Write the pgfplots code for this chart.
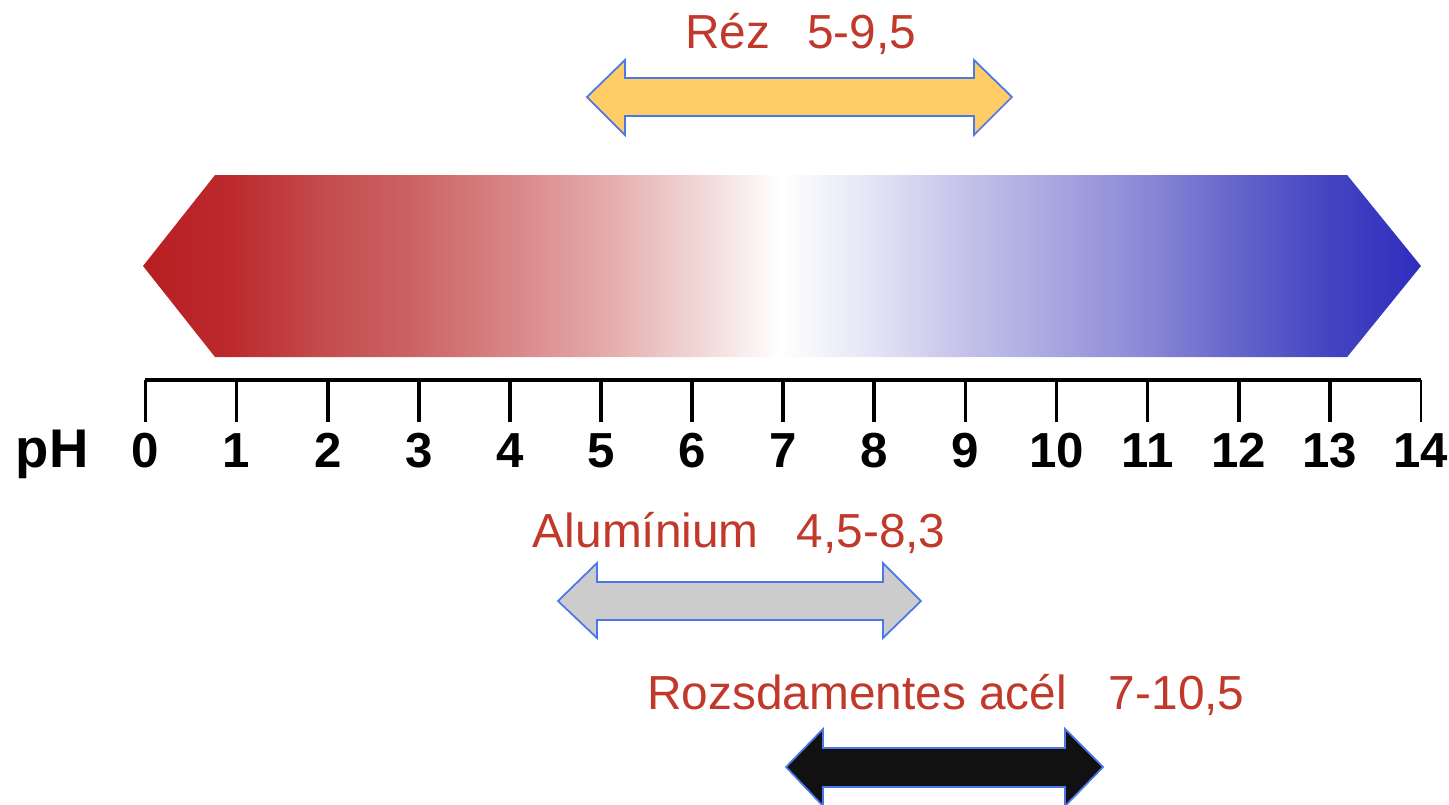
\documentclass[border=0pt]{standalone}
\usepackage{fontspec}
\setmainfont{Liberation Sans}
\usepackage{pgfplots}
\pgfplotsset{compat=1.18}
\definecolor{txtred}{HTML}{C0392B}
\definecolor{olblue}{HTML}{4A78E8}
\definecolor{rezfill}{HTML}{FFCC66}
\definecolor{alufill}{HTML}{CCCCCC}
\definecolor{acelfill}{HTML}{111111}
\definecolor{p0}{HTML}{B81E22}
\definecolor{p1}{HTML}{BC2A2E}
\definecolor{p2}{HTML}{C44C4E}
\definecolor{p3}{HTML}{CC6464}
\definecolor{p4}{HTML}{D88486}
\definecolor{p5}{HTML}{E4A8A8}
\definecolor{p6}{HTML}{F0D2D2}
\definecolor{p7}{HTML}{FFFFFF}
\definecolor{p8}{HTML}{E4E4F6}
\definecolor{p9}{HTML}{C4C2EA}
\definecolor{p10}{HTML}{A8A6E0}
\definecolor{p11}{HTML}{8A88D6}
\definecolor{p12}{HTML}{6464CA}
\definecolor{p13}{HTML}{4444C2}
\definecolor{p14}{HTML}{2E2EBE}
\pgfdeclarehorizontalshading{phscale}{100bp}{color(0bp)=(p0); color(25bp)=(p0); color(28.52bp)=(p1); color(32.08bp)=(p2); color(35.64bp)=(p3); color(39.28bp)=(p4); color(42.84bp)=(p5); color(46.40bp)=(p6); color(49.96bp)=(p7); color(53.56bp)=(p8); color(57.12bp)=(p9); color(60.68bp)=(p10); color(64.24bp)=(p11); color(67.84bp)=(p12); color(71.40bp)=(p13); color(75bp)=(p14); color(100bp)=(p14)}
\begin{document}
\begin{tikzpicture}
\begin{axis}[
  scale only axis, width=14.49cm, height=8.04cm,
  xmin=-1.597, xmax=14.308, ymin=0, ymax=804, y dir=reverse,
  hide axis,
]
\addplot[draw=none] coordinates {(-1.597,0) (14.308,804)};
% gradient pH bar
\addplot[draw=none, shading=phscale] coordinates {(-0.027,266) (0.763,175) (13.19,175) (14.0,266) (13.19,357) (0.763,357)} --cycle;
% scale line and ticks
\addplot[black, line width=1.15pt] coordinates {(0,380) (14,380)};
\addplot[black, line width=0.6pt] coordinates {(0,380) (0,422)};
\addplot[black, line width=0.6pt] coordinates {(14,380) (14,422)};
\pgfplotsinvokeforeach{1,...,13}{
  \addplot[black, line width=1.05pt] coordinates {(#1,380) (#1,422)};
}
\pgfplotsinvokeforeach{0,...,14}{
  \node[anchor=base, font=\fontsize{14}{16}\selectfont\bfseries, inner sep=0pt] at (axis cs:#1,467) {#1};
}
\node[anchor=base west, font=\fontsize{15.5}{17}\selectfont\bfseries, inner sep=0pt] at (axis cs:-1.432,467) {pH};
% arrows
\addplot[draw=olblue, line width=0.5pt, fill=rezfill] coordinates {(4.846,97) (5.263,60) (5.263,78) (9.094,78) (9.094,60) (9.511,97) (9.094,135) (9.094,116) (5.263,116) (5.263,135)} --cycle;
\addplot[draw=olblue, line width=0.5pt, fill=alufill] coordinates {(4.528,601) (4.956,563) (4.956,582) (8.095,582) (8.095,563) (8.512,601) (8.095,638) (8.095,620) (4.956,620) (4.956,638)} --cycle;
\addplot[draw=olblue, line width=0.5pt, fill=acelfill] coordinates {(7.031,767) (7.437,729) (7.437,748) (10.094,748) (10.094,729) (10.511,767) (10.094,806) (10.094,787) (7.437,787) (7.437,806)} --cycle;
% labels
\node[anchor=base west, inner sep=0pt, text=txtred, font=\fontsize{13.6}{16}\selectfont] at (axis cs:5.915,48) {Réz\hspace{3.7mm}5-9,5};
\node[anchor=base west, inner sep=0pt, text=txtred, font=\fontsize{13.6}{16}\selectfont] at (axis cs:4.245,547) {Alumínium\hspace{3.8mm}4,5-8,3};
\node[anchor=base west, inner sep=0pt, text=txtred, font=\fontsize{13.6}{16}\selectfont] at (axis cs:5.500,709) {Rozsdamentes acél\hspace{4.2mm}7-10,5};
\end{axis}
\end{tikzpicture}
\end{document}
